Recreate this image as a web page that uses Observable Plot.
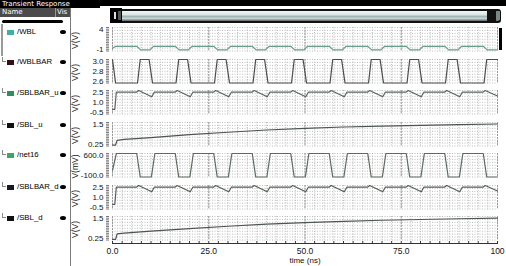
<!DOCTYPE html>
<html><head><meta charset="utf-8">
<script src="https://cdn.jsdelivr.net/npm/d3@7"></script>
<script src="https://cdn.jsdelivr.net/npm/@observablehq/plot@0.6"></script>
<style>
html,body{margin:0;padding:0;background:#fff;}
body{width:506px;height:266px;overflow:hidden;position:relative;font-family:"Liberation Sans",Arial,sans-serif;}
.a{position:absolute;}
.item{position:absolute;left:17px;font-size:7.8px;color:#000;line-height:10px;white-space:nowrap;}
.sw{position:absolute;left:7px;width:7px;height:5px;}
.eye{position:absolute;left:60px;width:6px;height:4px;background:#000;border-radius:50%;}
.br{position:absolute;left:2px;width:3px;height:4px;border-left:1px solid #8a8a8a;border-bottom:1px solid #8a8a8a;}
.unit{position:absolute;width:28px;height:9px;line-height:9px;text-align:center;font-size:8.5px;color:#111;transform:rotate(-90deg);white-space:nowrap;}
svg{overflow:visible;}
</style></head><body>
<div id="root"></div>
<script>
// ---------- data ----------
const signalNames = ["/WBL","/WBLBAR","/SBLBAR_u","/SBL_u","/net16","/SBLBAR_d","/SBL_d"];
const swatchColors = ["#3fb0a6","#3a0c14","#2f8f5c","#101010","#39a768","#15182a","#101010"];
const lineColors = ["#6a9c8d","#4a4d4b","#5a655e","#4d5550","#5b6b5e","#565f59","#4d5550"];
const unitLabels = ["V(V)","V(V)","V(V)","V(V)","V(mV)","V(V)","V(V)"];
const yDomains = [[-1,4],[2.6,3.0],[-0.5,2.5],[0.25,1.5],[-100,600],[-0.5,2.5],[0.25,1.5]];
const yTickValues = [[-1,4],[2.6,2.8,3.0],[-0.5,1.0,2.5],[0.25,1.5],[-100,600],[-0.5,1.0,2.5],[0.25,1.5]];
const yTickLabels = [["-1","4"],["2.6","2.8","3.0"],["-0.5","1.0","2.5"],["0.25","1.5"],["-100.0","600.0"],["-0.5","1.0","2.5"],["0.25","1.5"]];
const xTicks = [0,25,50,75,100];
const xTickLabels = ["0.0","25.0","50.0","75.0","100"];
const xLabel = "time (ns)";

const wblT = [0,0.9, 6.3,7.3,9.7,10.7, 16.3,17.3,19.7,20.7, 26.3,27.3,29.7,30.7, 36.3,37.3,39.7,40.7, 46.3,47.3,49.7,50.7, 56.3,57.3,59.7,60.7, 66.3,67.3,69.7,70.7, 76.3,77.3,79.7,80.7, 86.3,87.3,89.7,90.7, 96.3,97.3,100];
const wblV = [-0.4,0, 0,-0.75,-0.75,0, 0,-0.75,-0.75,0, 0,-0.75,-0.75,0, 0,-0.75,-0.75,0, 0,-0.75,-0.75,0, 0,-0.75,-0.75,0, 0,-0.75,-0.75,0, 0,-0.75,-0.75,0, 0,-0.75,-0.75,0, 0,-0.75,-0.75];

const wblbarT = [0,0.8, 6.5,7.2,9.5,10.4, 16.5,17.2,19.5,20.4, 26.5,27.2,29.5,30.4, 36.5,37.2,39.5,40.4, 46.5,47.2,49.5,50.4, 56.5,57.2,59.5,60.4, 66.5,67.2,69.5,70.4, 76.5,77.2,79.5,80.4, 86.5,87.2,89.5,90.4, 96.5,97.2,100];
const wblbarV = [3.0,2.6, 2.6,3.0,3.0,2.6, 2.6,3.0,3.0,2.6, 2.6,3.0,3.0,2.6, 2.6,3.0,3.0,2.6, 2.6,3.0,3.0,2.6, 2.6,3.0,3.0,2.6, 2.6,3.0,3.0,2.6, 2.6,3.0,3.0,2.6, 2.6,3.0,3.0,2.6, 2.6,3.0,3.0];

const sblbarUT = [0,0.6,1.0, 6.3,6.8,10.2,10.9, 16.3,16.8,20.2,20.9, 26.3,26.8,30.2,30.9, 36.3,36.8,40.2,40.9, 46.3,46.8,50.2,50.9, 56.3,56.8,60.2,60.9, 66.3,66.8,70.2,70.9, 76.3,76.8,80.2,80.9, 86.3,86.8,90.2,90.9, 96.3,96.8,100];
const sblbarUV = [0.1,0.1,2.3, 2.3,2.5,1.7,2.3, 2.3,2.5,1.7,2.3, 2.3,2.5,1.7,2.3, 2.3,2.5,1.7,2.3, 2.3,2.5,1.7,2.3, 2.3,2.5,1.7,2.3, 2.3,2.5,1.7,2.3, 2.3,2.5,1.7,2.3, 2.3,2.5,1.7,2.3, 2.3,2.5,1.8];

const sblUT = [0,0.8,1.2,3,10,20,30,40,50,60,70,80,90,100];
const sblUV = [0.3,0.3,0.55,0.6,0.7,0.85,0.98,1.1,1.19,1.26,1.31,1.35,1.39,1.42];

const net16T = [0,1.0, 6.3,7.2,10.1,11.0, 16.3,17.2,20.1,21.0, 26.3,27.2,30.1,31.0, 36.3,37.2,40.1,41.0, 46.3,47.2,50.1,51.0, 56.3,57.2,60.1,61.0, 66.3,67.2,70.1,71.0, 76.3,77.2,80.1,81.0, 86.3,87.2,90.1,91.0, 96.3,97.2,100];
const net16V = [100,600, 600,-100,-100,600, 600,-100,-100,600, 600,-100,-100,600, 600,-100,-100,600, 600,-100,-100,600, 600,-100,-100,600, 600,-100,-100,600, 600,-100,-100,600, 600,-100,-100,600, 600,-100,-100];

const sblbarDT = [0,0.6,1.0, 6.3,6.8,10.2,10.9, 16.3,16.8,20.2,20.9, 26.3,26.8,30.2,30.9, 36.3,36.8,40.2,40.9, 46.3,46.8,50.2,50.9, 56.3,56.8,60.2,60.9, 66.3,66.8,70.2,70.9, 76.3,76.8,80.2,80.9, 86.3,86.8,90.2,90.9, 96.3,96.8,100];
const sblbarDV = [0.1,0.1,2.3, 2.3,2.5,1.7,2.3, 2.3,2.5,1.7,2.3, 2.3,2.5,1.7,2.3, 2.3,2.5,1.7,2.3, 2.3,2.5,1.7,2.3, 2.3,2.5,1.7,2.3, 2.3,2.5,1.7,2.3, 2.3,2.5,1.7,2.3, 2.3,2.5,1.7,2.3, 2.3,2.5,1.8];

const sblDT = [0,0.8,1.2,3,10,20,30,40,50,60,70,80,90,100];
const sblDV = [0.28,0.28,0.58,0.62,0.72,0.86,0.98,1.09,1.17,1.24,1.3,1.34,1.38,1.41];

const seriesT = [wblT, wblbarT, sblbarUT, sblUT, net16T, sblbarDT, sblDT];
const seriesV = [wblV, wblbarV, sblbarUV, sblUV, net16V, sblbarDV, sblDV];

// ---------- layout ----------
const root = document.getElementById("root");
function div(cls, css, text) {
  const d = document.createElement("div");
  if (cls) d.className = cls;
  d.style.cssText = css;
  if (text != null) d.textContent = text;
  root.appendChild(d);
  return d;
}
// title bar
div("a","left:0;top:0;width:506px;height:6px;background:#000;");
div("a","left:0;top:0;width:100px;height:8px;background:#000;");
div("a","left:2px;top:0;font:7px 'DejaVu Sans',sans-serif;color:#fff;line-height:8px;white-space:nowrap;","Transient Response");
// header row
div("a","left:0;top:8px;width:70px;height:9px;background:#4b4b4b;");
div("a","left:2px;top:8px;font:7px 'DejaVu Sans',sans-serif;color:#fff;line-height:9px;","Name");
div("a","left:55px;top:8px;width:1px;height:9px;background:#999;");
div("a","left:57px;top:8px;font:7px 'DejaVu Sans',sans-serif;color:#fff;line-height:9px;","Vis");
div("a","left:2px;top:20px;width:61px;height:3px;background:#000;border-radius:2px;");
div("a","left:1px;top:24px;width:1.5px;height:32px;background:#9a9a9a;");
div("a","left:70px;top:8px;width:1px;height:258px;background:#7a7a7a;");

const itemY = [32, 62, 93, 125, 155, 187, 218];
signalNames.forEach((n, i) => {
  const cy = itemY[i];
  if (i > 0) div("br", `top:${cy-5}px;`);
  div("sw", `top:${cy-2.5}px;background:${swatchColors[i]};`);
  div("item", `top:${cy-5}px;`, n);
  div("eye", `top:${cy-2}px;`);
});

// scrollbar
div("a","left:111px;top:9px;width:386px;height:10px;border:2px solid #111;border-radius:3px;background:linear-gradient(to bottom,#f2f5f5 0%,#dde6e6 35%,#9fb9b8 55%,#c9d3d3 75%,#5d6362 100%);");
div("a","left:110px;top:8px;width:12px;height:15px;background:#000;");
div("a","left:114px;top:12px;width:2px;height:7px;background:#ddd;");
div("a","left:118px;top:11px;width:3px;height:9px;background:#555;");
div("a","left:487px;top:9px;width:9px;height:14px;background:#111;border-radius:2px;");
div("a","left:496px;top:11px;width:4px;height:9px;background:#7a8888;");
// marker at right of first panel
div("a","left:499px;top:28px;width:3px;height:22px;background:#000;");

// ---------- panels ----------
const PW = 436, ML = 42, MR = 9, MT = 6, MB = 6;
const panelTop0 = 27, panelStep = 31.5, panelH = 23.5;
const minorX = d3.range(0, 100.001, 2.5);
const font = "'Liberation Sans', Arial, sans-serif";

signalNames.forEach((name, i) => {
  const data = seriesT[i].map((t, j) => ({t, v: seriesV[i][j]}));
  const [lo, hi] = yDomains[i];
  const gridYv = d3.range(0, 9).map(k => lo + k * (hi - lo) / 8);
  const rulerY = d3.range(0, 15).map(k => lo + k * (hi - lo) / 14);
  const top = panelTop0 + i * panelStep;
  // one axis mark per labelled tick, nudging the end labels inward
  const labelAxes = yTickValues[i].map((val, k) => {
    const shift = val === hi ? 1.5 : val === lo ? -1.5 : 0;
    return Plot.axisY({ticks: [val], label: null, tickFormat: () => yTickLabels[i][k], tickSize: 0, tickPadding: 9, fontSize: 8, fill: "#111", dy: shift});
  });
  const chart = Plot.plot({
    width: PW, height: panelH + MT + MB,
    marginLeft: ML, marginRight: MR, marginTop: MT, marginBottom: MB,
    x: {domain: [0, 100], axis: null, label: null},
    y: {domain: yDomains[i], axis: null, label: null},
    style: {fontFamily: font, fontSize: "8px", color: "#000", background: "transparent", overflow: "visible"},
    marks: [
      Plot.gridY({ticks: gridYv, stroke: "#bdbdbd", strokeOpacity: 1, strokeDasharray: "1,1.5"}),
      Plot.gridX({ticks: minorX, stroke: "#bdbdbd", strokeOpacity: 1, strokeDasharray: "1,1.5"}),
      Plot.gridX({ticks: xTicks, stroke: "#9a9a9a", strokeOpacity: 1, strokeDasharray: "2,1"}),
      Plot.axisY({ticks: rulerY, label: null, tickSize: 3, tickFormat: () => "", dx: -3, stroke: "#555", strokeWidth: 0.8}),
      ...labelAxes,
      Plot.line(data, {x: "t", y: "v", stroke: lineColors[i], strokeWidth: 1.2})
    ]
  });
  chart.style.position = "absolute";
  chart.style.left = "70px";
  chart.style.top = (top - MT) + "px";
  chart.style.maxWidth = "none";
  root.appendChild(chart);
  // rotated unit label
  div("unit", `left:${75 - 14}px;top:${top + panelH / 2 + 2 - 4.5}px;`, unitLabels[i]);
});

// ---------- x axis ----------
const xLabelMap = new Map(xTicks.map((d, k) => [d, xTickLabels[k]]));
const axisChart = Plot.plot({
  width: PW, height: 26,
  marginLeft: ML, marginRight: MR, marginTop: 3, marginBottom: 20,
  x: {domain: [0, 100], axis: null, label: null},
  style: {fontFamily: font, fontSize: "8.5px", color: "#000", background: "transparent", overflow: "visible"},
  marks: [
    Plot.axisX({anchor: "top", ticks: minorX, label: null, tickSize: 3, tickFormat: () => "", stroke: "#333"}),
    Plot.frame({anchor: "top", stroke: "#333"}),
    Plot.axisX({anchor: "bottom", ticks: xTicks, label: null, tickFormat: d => xLabelMap.get(d), tickSize: 0, tickPadding: 1, fontSize: 8.5, fill: "#111"}),
    Plot.text([xLabel], {frameAnchor: "bottom", dy: 16, fontSize: 8, fill: "#111"})
  ]
});
axisChart.style.position = "absolute";
axisChart.style.left = "70px";
axisChart.style.top = "240px";
axisChart.style.maxWidth = "none";
root.appendChild(axisChart);
</script>
</body></html>
